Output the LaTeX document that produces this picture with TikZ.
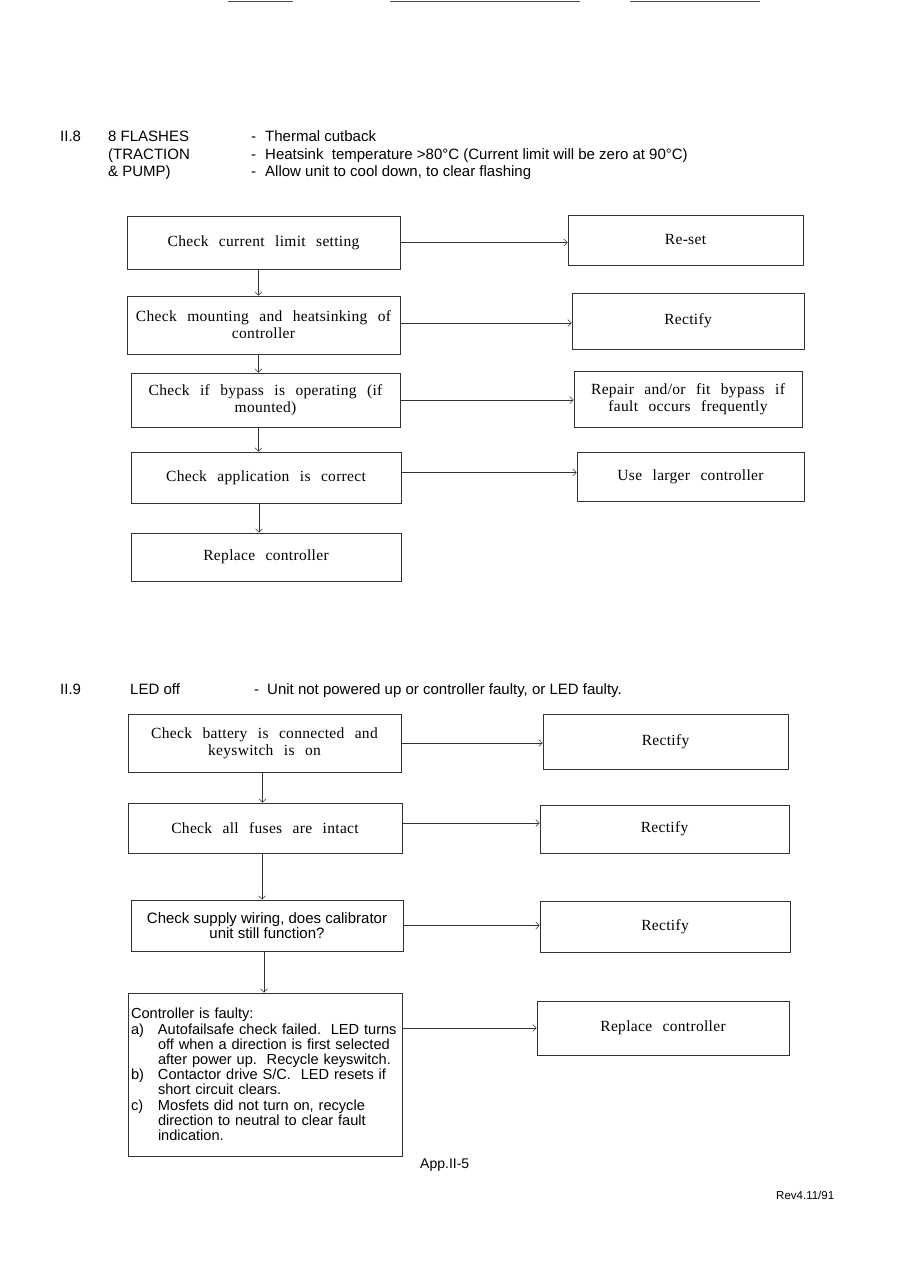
\documentclass[tikz,border=0pt]{standalone}
\usepackage{fontspec}
\setmainfont{Liberation Serif}
\setsansfont{Liberation Sans}
\newfontfamily\boxserif[LetterSpace=2,WordSpace=2.5]{Liberation Serif}
\usetikzlibrary{arrows.meta,calc}
\tikzset{
  box/.style={draw=black!80, line width=0.6pt, rectangle, inner sep=2pt, align=center,
    font=\boxserif\fontsize{15.5}{17}\selectfont},
  sbox/.style={box, font=\sffamily\fontsize{15}{13}\selectfont},
  arr/.style={draw=black!80, line width=0.6pt, -{Straight Barb[length=3.5pt,width=7pt]}},
  hdr/.style={anchor=base west, inner sep=0pt, font=\sffamily\fontsize{15}{17}\selectfont},
  scanline/.style={draw=black!70, line width=0.6pt}
}
\begin{document}
\begin{tikzpicture}[x=1pt,y=-1pt]
\fill[white] (0,0) rectangle (917,1265);
\useasboundingbox (0,0) rectangle (917,1265);

% scan marks at top of page
\draw[scanline] (228,1) -- (293,1);
\draw[scanline] (390,1) -- (580,1);
\draw[scanline] (630,1) -- (760,1);

% ---------- II.8 header ----------
\node[hdr] (h8a) at (60,142) {II.8};
\node[hdr] (h8b) at (108,142) {8 FLASHES};
\node[hdr] (h8c) at (251,142) {-};
\node[hdr] (h8d) at (265,142) {Thermal cutback};
\node[hdr] (h8e) at (108,160) {(TRACTION};
\node[hdr] (h8f) at (251,160) {-};
\node[hdr] (h8g) at (265,160) {Heatsink\ \ temperature >80°C (Current limit will be zero at 90°C)};
\node[hdr] (h8h) at (108,177) {\& PUMP)};
\node[hdr] (h8i) at (251,177) {-};
\node[hdr] (h8j) at (265,177) {Allow unit to cool down, to clear flashing};

% ---------- II.8 boxes ----------
\node[box, minimum width=273pt, minimum height=53pt] (b1) at (263.5,242.5) {Check current limit setting};
\node[box, minimum width=235pt, minimum height=50pt] (r1) at (685.5,240) {Re-set};
\node[box, minimum width=273pt, minimum height=58pt] (b2) at (263.5,325) {Check mounting and heatsinking of\\controller};
\node[box, minimum width=232pt, minimum height=56pt] (r2) at (688,321) {Rectify};
\node[box, minimum width=269pt, minimum height=54pt] (b3) at (265.5,400) {Check if bypass is operating (if\\mounted)};
\node[box, minimum width=228pt, minimum height=56pt] (r3) at (688,399) {Repair and/or fit bypass if\\fault occurs frequently};
\node[box, minimum width=270pt, minimum height=51pt] (b4) at (266,477.5) {Check application is correct};
\node[box, minimum width=227pt, minimum height=49pt] (r4) at (690.5,476.5) {Use larger controller};
\node[box, minimum width=270pt, minimum height=48pt] (b5) at (266,557) {Replace controller};

\draw[arr] ([xshift=-5pt]b1.south) -- ([xshift=-5pt]b1.south |- b2.north);
\draw[arr] ([xshift=-5pt]b2.south) -- ([xshift=-5pt]b2.south |- b3.north);
\draw[arr] ([xshift=-7pt]b3.south) -- ([xshift=-7pt]b3.south |- b4.north);
\draw[arr] ([xshift=-7pt]b4.south) -- ([xshift=-7pt]b4.south |- b5.north);

\draw[arr] (b1.east) -- (b1.east -| r1.west);
\draw[arr] ([yshift=2pt]b2.east) -- ([yshift=2pt]b2.east -| r2.west);
\draw[arr] (b3.east) -- (b3.east -| r3.west);
\draw[arr] ([yshift=5pt]b4.east) -- ([yshift=5pt]b4.east -| r4.west);

% ---------- II.9 header ----------
\node[hdr] (h9a) at (60,694) {II.9};
\node[hdr] (h9b) at (130,694) {LED off};
\node[hdr] (h9c) at (254,694) {-};
\node[hdr] (h9d) at (267,694) {Unit not powered up or controller faulty, or LED faulty.};

% ---------- II.9 boxes ----------
\node[box, minimum width=273pt, minimum height=58pt] (c1) at (264.5,743) {Check battery is connected and\\keyswitch is on};
\node[box, minimum width=245pt, minimum height=55pt] (s1) at (665.5,741.5) {Rectify};
\node[box, minimum width=274pt, minimum height=50pt] (c2) at (265,828) {Check all fuses are intact};
\node[box, minimum width=249pt, minimum height=48pt] (s2) at (664.5,829) {Rectify};
\node[sbox, minimum width=272pt, minimum height=51pt] (c3) at (267,925.5) {Check supply wiring, does calibrator\\unit still function?};
\node[box, minimum width=250pt, minimum height=51pt] (s3) at (665,926.5) {Rectify};
\node[draw=black!80, line width=0.6pt, rectangle, inner sep=3pt, text width=268pt, align=left,
      minimum height=163pt, font=\sffamily\fontsize{14.6}{15.2}\selectfont] (c4) at (265,1074.5)
  {Controller is faulty:\\
   \mbox{\makebox[27pt][l]{a)}Autofailsafe check failed.\ \ LED turns}\\
   \mbox{\hspace*{27pt}off when a direction is first selected}\\
   \mbox{\hspace*{27pt}after power up.\ \ Recycle keyswitch.}\\
   \mbox{\makebox[27pt][l]{b)}Contactor drive S/C.\ \ LED resets if}\\
   \mbox{\hspace*{27pt}short circuit clears.}\\
   \mbox{\makebox[27pt][l]{c)}Mosfets did not turn on, recycle}\\
   \mbox{\hspace*{27pt}direction to neutral to clear fault}\\
   \mbox{\hspace*{27pt}indication.}};
\node[box, minimum width=252pt, minimum height=54pt] (s4) at (663,1028) {Replace controller};

\draw[arr] ([xshift=-2pt]c1.south) -- ([xshift=-2pt]c1.south |- c2.north);
\draw[arr] ([xshift=-3pt]c2.south) -- ([xshift=-3pt]c2.south |- c3.north);
\draw[arr] ([xshift=-3pt]c3.south) -- ([xshift=-3pt]c3.south |- c4.north);

\draw[arr] (c1.east) -- (c1.east -| s1.west);
\draw[arr] ([yshift=5pt]c2.east) -- ([yshift=5pt]c2.east -| s2.west);
\draw[arr] (c3.east) -- (c3.east -| s3.west);
\draw[arr] (c4.east |- s4.west) -- (s4.west);

% ---------- footer ----------
\node[anchor=base west, inner sep=0pt, font=\sffamily\fontsize{14}{16}\selectfont] (pg) at (420,1168) {App.II-5};
\node[anchor=base west, inner sep=0pt, font=\sffamily\fontsize{11.5}{13}\selectfont] (rev) at (776,1199) {Rev4.11/91};
\end{tikzpicture}
\end{document}
